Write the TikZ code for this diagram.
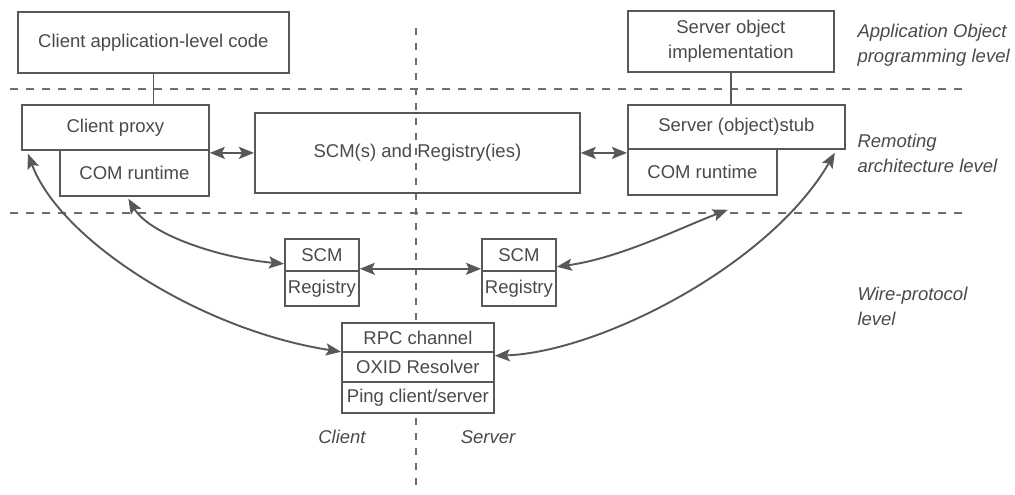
\documentclass[tikz,border=0pt]{standalone}
\usepackage{fontspec}
\setmainfont{Liberation Sans}
\usetikzlibrary{arrows.meta}
\definecolor{ln}{HTML}{585858}
\definecolor{dl}{HTML}{6E6E6E}
\definecolor{txt}{HTML}{4A4A4A}
\begin{document}
\begin{tikzpicture}[x=1pt,y=-1pt,
  every node/.style={text=txt, font=\fontsize{18.5}{25}\selectfont},
  box/.style={draw=ln, line width=1.8pt, inner sep=0pt, anchor=north west, align=center},
  wbox/.style={box, fill=white},
  sep/.style={draw=dl, line width=1.8pt, dash pattern=on 8pt off 8pt},
  vsep/.style={draw=dl, line width=1.6pt, dash pattern=on 7pt off 8pt},
  link/.style={draw=ln, line width=1.8pt},
  dbl/.style={draw=ln, line width=1.9pt, {Stealth[length=15pt,width=12pt,inset=3pt]}-{Stealth[length=15pt,width=12pt,inset=3pt]}},
  lvl/.style={anchor=west, align=left, font=\fontsize{18.5}{25}\selectfont\itshape},
]
\useasboundingbox[fill=white] (0,0) rectangle (1015,495);

% level separators
\draw[sep] (10,89) -- (968,89);
\draw[sep] (10,213) -- (968,213);
\draw[vsep] (416,28) -- (416,487);

% boxes
\node[box, minimum width=271pt, minimum height=61pt] (capp) at (17,11) {Client application-level code};
\node[box, minimum width=206pt, minimum height=61pt] (sobj) at (627,10) {Server object\\implementation};
\node[box, minimum width=187pt, minimum height=45pt] (cproxy) at (21,104) {Client proxy};
\node[box, minimum width=149pt, minimum height=46pt] (ccom) at (59,149) {COM runtime};
\node[box, minimum width=325pt, minimum height=80pt] (scmreg) at (254,112) {SCM(s) and Registry(ies)};
\node[box, minimum width=217pt, minimum height=44pt] (sstub) at (627,104) {Server (object)stub};
\node[box, minimum width=149pt, minimum height=46pt] (scom) at (627,148) {COM runtime};

\node[box, minimum width=74pt, minimum height=32pt] (scm1) at (284,238) {SCM};
\node[box, minimum width=74pt, minimum height=35pt] (reg1) at (284,270) {Registry};
\node[box, minimum width=74pt, minimum height=32pt] (scm2) at (481,238) {SCM};
\node[box, minimum width=74pt, minimum height=35pt] (reg2) at (481,270) {Registry};

\node[wbox, minimum width=152pt, minimum height=29pt] (rpc) at (341,322) {RPC channel};
\node[wbox, minimum width=152pt, minimum height=30pt] (oxid) at (341,351) {OXID Resolver};
\node[wbox, minimum width=152pt, minimum height=31pt] (ping) at (341,381) {Ping client/server};

% labels
\node[lvl] (l1) at (854,45) {Application Object\\programming level};
\node[lvl] (l2) at (854,153) {Remoting\\architecture level};
\node[lvl] (l3) at (854,306) {Wire-protocol\\level};
\node[font=\fontsize{18.5}{25}\selectfont\itshape] (lc) at (342,437) {Client};
\node[font=\fontsize{18.5}{25}\selectfont\itshape] (ls) at (488,437) {Server};

% vertical links
\draw[link] (capp.south) -- (capp.south |- cproxy.north);
\draw[link] (sobj.south) -- (sobj.south |- sstub.north);

% horizontal double arrows
\draw[dbl] (scmreg.west -| cproxy.east) -- (scmreg.west);
\draw[dbl] (scmreg.east) -- (scmreg.east -| sstub.west);
\draw[dbl] ([yshift=3pt]scm1.south east) -- ([yshift=3pt]scm2.south west);

% arcs
\coordinate (a1s) at ([shift={(7pt,-3pt)}]cproxy.south west);
\coordinate (a2s) at ([shift={(-6pt,-2pt)}]ccom.south);
\coordinate (a3e) at ([shift={(-11pt,-3pt)}]sstub.south east);
\coordinate (a4e) at ([shift={(-50pt,-14pt)}]scom.south east);
\draw[dbl] (a1s) .. controls (60,240) and (200,330) .. ([yshift=1pt]rpc.south west);
\draw[dbl] (a2s) .. controls (150,235) and (220,258) .. ([yshift=8pt]scm1.south west);
\draw[dbl] ([yshift=-3pt]rpc.south east) .. controls (600,352) and (770,265) .. (a3e);
\draw[dbl] ([yshift=5pt]scm2.south east) .. controls (620,258) and (680,228) .. (a4e);
\end{tikzpicture}
\end{document}
